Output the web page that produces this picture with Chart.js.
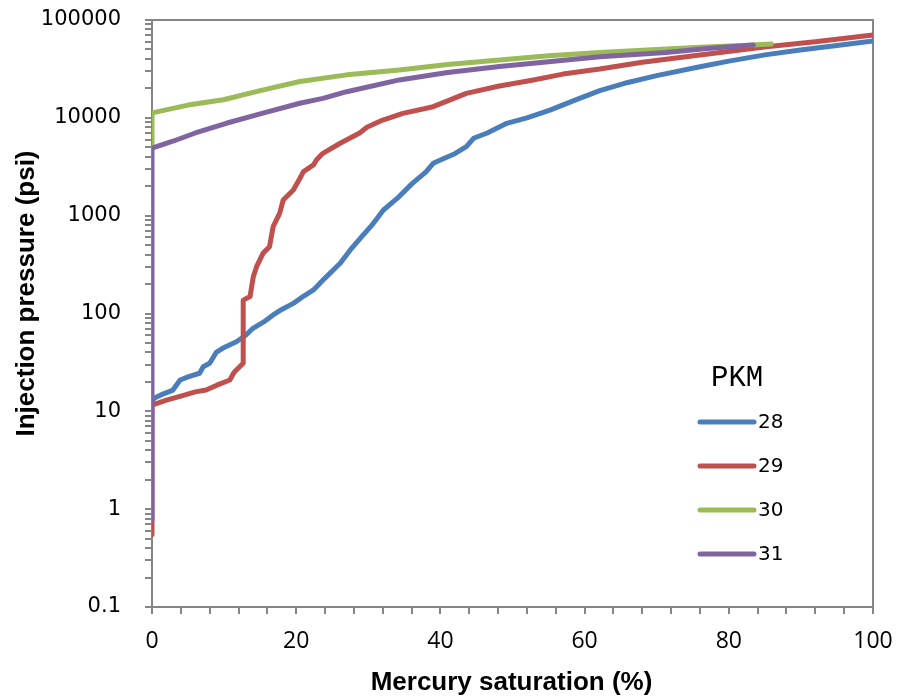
<!DOCTYPE html>
<html>
<head>
<meta charset="utf-8">
<script src="https://cdn.jsdelivr.net/npm/chart.js@4.4.1/dist/chart.umd.min.js"></script>
<style>
  html, body { margin: 0; padding: 0; background: #ffffff; }
  #wrap { width: 900px; height: 700px; position: relative; }
</style>
</head>
<body>
<div id="wrap"><canvas id="c" width="900" height="700"></canvas></div>
<script>
// ---- data ----
const seriesLabels = ['28', '29', '30', '31'];
const seriesColors = ['#4A7EBB', '#C0504D', '#9BBB59', '#8064A2'];
const legendTitle = 'PKM';
const xAxisTitle = 'Mercury saturation (%)';
const yAxisTitle = 'Injection pressure (psi)';
const xTickLabels = [0, 20, 40, 60, 80, 100];
const yTickLabels = [0.1, 1, 10, 100, 1000, 10000, 100000];

// PKM 28: [saturation %, pressure psi]
const pkm28 = [
  [0,12.5],[0.3,13.6],[1.5,15],[2.9,16.5],[3.5,19],[3.9,20.9],[5,22.5],[6.6,24.5],
  [7.1,28.6],[8.0,31],[8.9,40],[10,45],[11.7,51.5],[13,60],[14,70.6],[15.5,82],
  [16.8,96.6],[18,110],[19.6,127],[21,150],[22.4,174],[24,230],[26.1,326],[27.5,446],
  [29,600],[30.5,800],[32.1,1143],[34,1500],[36,2100],[38,2800],[39,3430],[40,3700],
  [42,4300],[43.6,5070],[44.6,6180],[46.5,7000],[49.2,8790],[52,10000],[55.2,12000],
  [58.5,15000],[62.1,19000],[66,23000],[70,27000],[76,33300],[80,38000],[85,44000],
  [89.9,49400],[95,55000],[100,61000]
];
// PKM 29
const pkm29 = [
  [0,0.55],[0,11.6],[2,13],[4,14.3],[6,15.8],[7.5,16.5],[9,18.5],[10.8,20.9],
  [11.3,24.5],[11.6,26],[12.65,31],[12.65,137],[13.6,149],[14.05,238],[14.5,301],
  [15.4,412],[16.3,482],[16.8,771],[17.7,1056],[18.2,1445],[19.6,1830],[20.5,2400],
  [21.0,2820],[22.4,3300],[22.8,3710],[23.7,4340],[26.1,5500],[28.8,7000],[29.8,8000],
  [32,9500],[34.8,11100],[39,13000],[43.6,17800],[48,21000],[52.9,24400],[57,28000],
  [62.1,31500],[68,37000],[76,43800],[85.2,53400],[92,60000],[100,70300]
];
// PKM 30
const pkm30 = [
  [0,4800],[0,11200],[0.65,11500],[5,13500],[9.9,15300],[15,19000],[20.5,23500],
  [27,27500],[34.3,30800],[41,35000],[48.2,39000],[55,43000],[62.1,46500],[70,50000],
  [76,52600],[82,55000],[85.9,56900]
];
// PKM 31
const pkm31 = [
  [0,0.78],[0,4900],[3,5800],[6,7000],[10.3,8800],[15,11000],[20.5,14100],[23.7,15800],
  [27,18500],[34.3,24400],[41,29000],[48.2,33400],[55,37500],[62.1,42200],[71.3,46500],
  [77,51000],[83.4,55600]
];
const seriesData = [pkm28, pkm29, pkm30, pkm31];

// ---- chart ----
const AXIS = '#868686';

const datasets = seriesData.map((arr, i) => ({
  label: seriesLabels[i],
  data: arr.map(p => ({ x: p[0], y: p[1] })),
  borderColor: seriesColors[i],
  backgroundColor: seriesColors[i],
  borderWidth: 5,
  pointRadius: 0,
  showLine: true,
  tension: 0,
  borderCapStyle: 'round',
  borderJoinStyle: 'round',
  order: seriesData.length - i
}));

const framePlugin = {
  id: 'frame',
  beforeDatasetsDraw(chart) {
    const { ctx, chartArea: a } = chart;
    ctx.save();
    ctx.strokeStyle = AXIS;
    ctx.lineWidth = 2;
    ctx.beginPath();
    ctx.moveTo(a.left, a.top);
    ctx.lineTo(a.right, a.top);
    ctx.lineTo(a.right, a.bottom);
    ctx.stroke();
    ctx.restore();
  }
};

const titlesPlugin = {
  id: 'axisTitles',
  afterDraw(chart) {
    const { ctx, chartArea: a } = chart;
    ctx.save();
    ctx.fillStyle = '#000';
    ctx.textAlign = 'center';
    ctx.textBaseline = 'middle';
    ctx.font = 'bold 26px "Liberation Sans Narrow", "Liberation Sans"';
    ctx.fillText(xAxisTitle, (a.left + a.right) / 2 - 1, 683);
    ctx.translate(27, a.top + (a.bottom - a.top) / 2 - 20);
    ctx.rotate(-Math.PI / 2);
    ctx.fillText(yAxisTitle, 0, 0);
    ctx.restore();
  }
};

const legendPlugin = {
  id: 'customLegend',
  afterDraw(chart) {
    const { ctx } = chart;
    ctx.save();
    ctx.fillStyle = '#000';
    ctx.textBaseline = 'middle';
    ctx.textAlign = 'left';
    ctx.font = '29px "Liberation Mono"';
    ctx.fillText(legendTitle, 711, 378);
    chart.data.datasets.forEach((ds, i) => {
      const y = 422 + i * 44;
      ctx.strokeStyle = ds.borderColor;
      ctx.lineWidth = 5;
      ctx.lineCap = 'round';
      ctx.beginPath();
      ctx.moveTo(700, y);
      ctx.lineTo(754, y);
      ctx.stroke();
      ctx.fillStyle = '#000';
      ctx.font = '20px "DejaVu Sans"';
      ctx.fillText(ds.label, 758, y + 1);
    });
    ctx.restore();
  }
};

const yAll = [];
for (let e = -1; e <= 5; e++) {
  for (let m = 1; m <= 9; m++) {
    const v = Number((m * Math.pow(10, e)).toPrecision(3));
    if (v <= 100000) yAll.push(v);
  }
}

new Chart(document.getElementById('c'), {
  type: 'scatter',
  data: { datasets },
  options: {
    responsive: false,
    animation: false,
    devicePixelRatio: 1,
    layout: { padding: { left: 0, top: 20, right: 27, bottom: 0 } },
    plugins: { legend: { display: false }, tooltip: { enabled: false } },
    scales: {
      x: {
        type: 'linear',
        min: 0, max: 100,
        afterFit(s) { s.height = 93; s.paddingLeft = 0; s.paddingRight = 0; },
        afterBuildTicks(s) {
          const t = [];
          for (let v = 0; v <= 100; v += 4) t.push({ value: v });
          s.ticks = t;
        },
        ticks: {
          autoSkip: false,
          maxRotation: 0,
          padding: 14,
          color: '#000',
          font: { family: '"Open Sans"', size: 23 },
          callback: v => xTickLabels.includes(v) ? String(v) : ''
        },
        grid: { drawOnChartArea: false, drawTicks: true, tickLength: 7, color: AXIS, lineWidth: 2 },
        border: { display: true, color: AXIS, width: 2 }
      },
      y: {
        type: 'logarithmic',
        min: 0.1, max: 100000,
        afterFit(s) { s.width = 152; s.paddingTop = 0; s.paddingBottom = 0; },
        afterBuildTicks(s) { s.ticks = yAll.map(v => ({ value: v })); },
        ticks: {
          autoSkip: false,
          padding: 24,
          color: '#000',
          font: { family: '"DejaVu Sans"', size: 21 },
          callback: v => yTickLabels.includes(v) ? String(v) : ''
        },
        grid: { drawOnChartArea: false, drawTicks: true, tickLength: 7, color: AXIS, lineWidth: 2 },
        border: { display: true, color: AXIS, width: 2 }
      }
    }
  },
  plugins: [framePlugin, titlesPlugin, legendPlugin]
});
</script>
</body>
</html>
